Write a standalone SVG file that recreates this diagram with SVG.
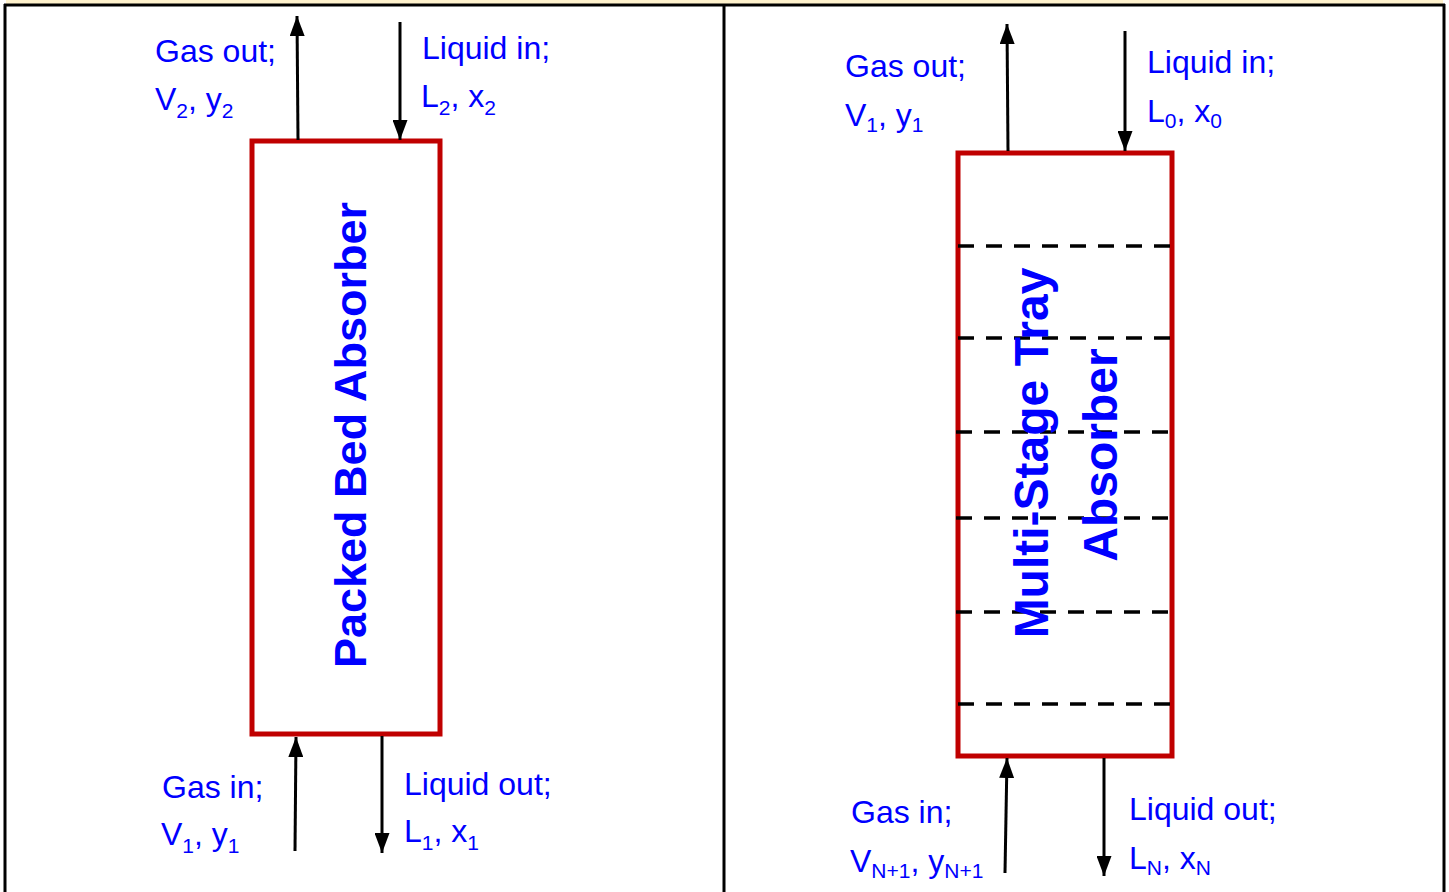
<svg xmlns="http://www.w3.org/2000/svg" width="1449" height="892" viewBox="0 0 1449 892">
  <style>
    .lbl { font-family: "Liberation Sans", Arial, sans-serif; font-size: 32px; fill: #0000FF; }
    .sub { font-size: 21px; }
    .title { font-family: "Liberation Sans", Arial, sans-serif; font-weight: bold; fill: #0000FF; text-anchor: middle; }
    .col { fill: #FFFFFF; stroke: #C00000; stroke-width: 5; }
    .tray { stroke: #000000; stroke-width: 3.5; stroke-dasharray: 16 12; fill: none; }
    .arrow { stroke: #000000; stroke-width: 3; fill: none; marker-end: url(#ah); }
    .frame { stroke: #000000; stroke-width: 3; fill: none; }
  </style>
  <defs>
    <marker id="ah" viewBox="0 0 20 15" refX="20" refY="7.5" markerWidth="20" markerHeight="15" markerUnits="userSpaceOnUse" orient="auto">
      <path d="M0,0 L20,7.5 L0,15 z" fill="#000000"/>
    </marker>
  </defs>
  <rect x="0" y="0" width="1449" height="892" fill="#FFFFFF"/>
  <rect x="6" y="0" width="1437" height="4" fill="#FFF2CC"/>
  <g id="frame">
    <line class="frame" x1="4" y1="5" x2="1445" y2="5"/>
    <line class="frame" x1="5" y1="4" x2="5" y2="892"/>
    <line class="frame" x1="724" y1="4" x2="724" y2="892"/>
    <line class="frame" x1="1444" y1="4" x2="1444" y2="892"/>
  </g>

  <g id="packed-bed">
    <rect class="col" x="252" y="141" width="188" height="593"/>
    <text class="title" font-size="45" transform="translate(350,435) rotate(-90)" x="0" y="16">Packed Bed Absorber</text>
  </g>

  <g id="tray-column">
    <rect class="col" x="958" y="153" width="214" height="603"/>
    <line class="tray" x1="958" y1="246" x2="1176" y2="246"/>
    <line class="tray" x1="958" y1="338" x2="1176" y2="338"/>
    <line class="tray" x1="956" y1="432" x2="1173" y2="432"/>
    <line class="tray" x1="956" y1="518" x2="1174" y2="518"/>
    <line class="tray" x1="956" y1="612" x2="1174" y2="612"/>
    <line class="tray" x1="958" y1="704" x2="1178" y2="704"/>
    <text class="title" font-size="48" transform="translate(1013,453) rotate(-90)" x="0" y="35">Multi-Stage Tray</text>
    <text class="title" font-size="48" transform="translate(1082,455) rotate(-90)" x="0" y="35">Absorber</text>
  </g>

  <g id="connectors">
    <line class="arrow" x1="298" y1="140" x2="297" y2="16"/>
    <line class="arrow" x1="400" y1="22" x2="400" y2="140"/>
    <line class="arrow" x1="295" y1="851" x2="296" y2="737"/>
    <line class="arrow" x1="382" y1="736" x2="382" y2="853"/>
    <line class="arrow" x1="1008" y1="151" x2="1007" y2="24"/>
    <line class="arrow" x1="1125" y1="31" x2="1125" y2="151"/>
    <line class="arrow" x1="1005" y1="873" x2="1007" y2="758"/>
    <line class="arrow" x1="1104" y1="758" x2="1104" y2="876"/>
  </g>

  <g id="labels-left">
    <text class="lbl" x="155" y="62">Gas out;</text>
    <text class="lbl" x="155" y="110">V<tspan class="sub" dy="8">2</tspan><tspan dy="-8">, y</tspan><tspan class="sub" dy="8">2</tspan></text>
    <text class="lbl" x="422" y="59">Liquid in;</text>
    <text class="lbl" x="421" y="107">L<tspan class="sub" dy="8">2</tspan><tspan dy="-8">, x</tspan><tspan class="sub" dy="8">2</tspan></text>
    <text class="lbl" x="162" y="798">Gas in;</text>
    <text class="lbl" x="161" y="845">V<tspan class="sub" dy="8">1</tspan><tspan dy="-8">, y</tspan><tspan class="sub" dy="8">1</tspan></text>
    <text class="lbl" x="404" y="795">Liquid out;</text>
    <text class="lbl" x="404" y="842">L<tspan class="sub" dy="8">1</tspan><tspan dy="-8">, x</tspan><tspan class="sub" dy="8">1</tspan></text>
  </g>

  <g id="labels-right">
    <text class="lbl" x="845" y="77">Gas out;</text>
    <text class="lbl" x="845" y="126">V<tspan class="sub" dy="6">1</tspan><tspan dy="-6">, y</tspan><tspan class="sub" dy="6">1</tspan></text>
    <text class="lbl" x="1147" y="73">Liquid in;</text>
    <text class="lbl" x="1147" y="122">L<tspan class="sub" dy="6">0</tspan><tspan dy="-6">, x</tspan><tspan class="sub" dy="6">0</tspan></text>
    <text class="lbl" x="851" y="823">Gas in;</text>
    <text class="lbl" x="850" y="872">V<tspan class="sub" dy="6">N+1</tspan><tspan dy="-6">, y</tspan><tspan class="sub" dy="6">N+1</tspan></text>
    <text class="lbl" x="1129" y="820">Liquid out;</text>
    <text class="lbl" x="1129" y="869">L<tspan class="sub" dy="6">N</tspan><tspan dy="-6">, x</tspan><tspan class="sub" dy="6">N</tspan></text>
  </g>
</svg>
